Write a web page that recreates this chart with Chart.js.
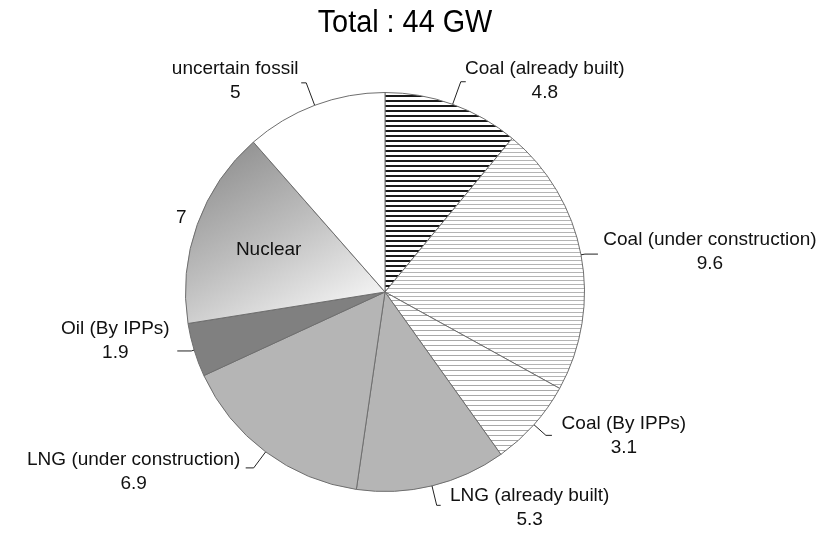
<!DOCTYPE html>
<html>
<head>
<meta charset="utf-8">
<script src="https://cdn.jsdelivr.net/npm/chart.js@4.4.1/dist/chart.umd.min.js"></script>
<style>
  html, body { margin: 0; padding: 0; background: #ffffff; }
  #wrap { width: 829px; height: 533px; position: relative; }
</style>
</head>
<body>
<div id="wrap"><canvas id="c" width="829" height="533"></canvas></div>
<script>
// ---- data ----
const chartTitle = "Total : 44 GW";
const categories = ["Coal (already built)", "Coal (under construction)", "Coal (By IPPs)", "LNG (already built)", "LNG (under construction)", "Oil (By IPPs)", "Nuclear", "uncertain fossil"];
const values = [4.8, 9.6, 3.1, 5.3, 6.9, 1.9, 7, 5];
const valueLabels = ["4.8", "9.6", "3.1", "5.3", "6.9", "1.9", "7", "5"];

// ---- label layout (leader extension, horizontal tick, text offset from tick end) ----
const labelLayout = [
  { ext: 24, tick: 5,   dx: 79,   dy: -1 },
  { ext: 4,  tick: 13,  dx: 112,  dy: -2 },
  { ext: 16, tick: 6,   dx: 72,   dy: 0 },
  { ext: 20, tick: 4,   dx: 89,   dy: 2 },
  { ext: 20, tick: -8,  dx: -112, dy: 4 },
  { ext: 3,  tick: -14, dx: -62,  dy: -10 },
  { inside: 0.62, vdx: -16, vdy: -7 },
  { ext: 24, tick: -5,  dx: -66,  dy: -2 }
];

function linePattern(bg, lineColor, period, thick) {
  const c = document.createElement('canvas');
  c.width = 8; c.height = period;
  const x = c.getContext('2d');
  x.fillStyle = bg; x.fillRect(0, 0, 8, period);
  x.fillStyle = lineColor; x.fillRect(0, 0, 8, thick);
  return x.createPattern(c, 'repeat');
}

const patBuilt = linePattern('#ffffff', '#1a1a1a', 5, 2);
const patUC = linePattern('#ffffff', '#b4b4b4', 4, 1);
const patIPP = linePattern('#ffffff', '#a8a8a8', 5, 1);

function nuclearFill(chart) {
  const a = chart.chartArea;
  if (!a) return '#cccccc';
  const cx = (a.left + a.right) / 2, cy = (a.top + a.bottom) / 2;
  const r = Math.min(a.right - a.left, a.bottom - a.top) / 2;
  const g = chart.ctx.createLinearGradient(cx - 0.72 * r, cy - 0.8 * r, cx - 0.2 * r, cy + 0.1 * r);
  g.addColorStop(0, '#8e8e8e');
  g.addColorStop(0.5, '#bdbdbd');
  g.addColorStop(1, '#f2f2f2');
  return g;
}

const staticFills = [patBuilt, patUC, patIPP, '#b5b5b5', '#b5b5b5', '#808080', null, '#ffffff'];

function sliceFill(context) {
  const f = staticFills[context.dataIndex];
  return f === null ? nuclearFill(context.chart) : f;
}

const FONT = '"Liberation Sans", Arial, sans-serif';

const labelPlugin = {
  id: 'labels',
  afterDraw(chart) {
    const ctx = chart.ctx;
    const arcs = chart.getDatasetMeta(0).data;
    ctx.save();
    // title
    ctx.fillStyle = '#000000';
    ctx.textAlign = 'center';
    ctx.textBaseline = 'middle';
    ctx.font = '31px ' + FONT;
    ctx.save();
    ctx.translate(405, 23);
    ctx.scale(0.93, 1);
    ctx.fillText(chartTitle, 0, 0);
    ctx.restore();

    ctx.font = '19px ' + FONT;
    arcs.forEach((arc, i) => {
      const L = labelLayout[i];
      const mid = (arc.startAngle + arc.endAngle) / 2;
      const ux = Math.cos(mid), uy = Math.sin(mid);
      const r = arc.outerRadius;
      if (L.inside) {
        const px = arc.x + ux * r * L.inside, py = arc.y + uy * r * L.inside;
        ctx.fillStyle = '#111111';
        ctx.fillText(categories[i], px, py);
        ctx.fillText(valueLabels[i], arc.x + ux * r + L.vdx, arc.y + uy * r + L.vdy);
        return;
      }
      const sx = arc.x + ux * r, sy = arc.y + uy * r;
      const ex = arc.x + ux * (r + L.ext), ey = arc.y + uy * (r + L.ext);
      const tx = ex + L.tick, ty = ey;
      ctx.strokeStyle = '#222222';
      ctx.lineWidth = 1;
      ctx.beginPath();
      ctx.moveTo(sx, sy);
      ctx.lineTo(ex, ey);
      ctx.lineTo(tx, ty);
      ctx.stroke();
      const cx = tx + L.dx, cy = ty + L.dy;
      ctx.fillStyle = '#111111';
      ctx.fillText(categories[i], cx, cy - 12);
      ctx.fillText(valueLabels[i], cx, cy + 12);
    });
    ctx.restore();
  }
};

new Chart(document.getElementById('c'), {
  type: 'pie',
  data: {
    labels: categories,
    datasets: [{
      data: values,
      backgroundColor: sliceFill,
      borderColor: '#6e6e6e',
      borderWidth: 1
    }]
  },
  options: {
    responsive: false,
    animation: false,
    layout: { padding: { left: 185, right: 244, top: 92, bottom: 41 } },
    plugins: {
      legend: { display: false },
      title: { display: false },
      tooltip: { enabled: false }
    }
  },
  plugins: [labelPlugin]
});
</script>
</body>
</html>
